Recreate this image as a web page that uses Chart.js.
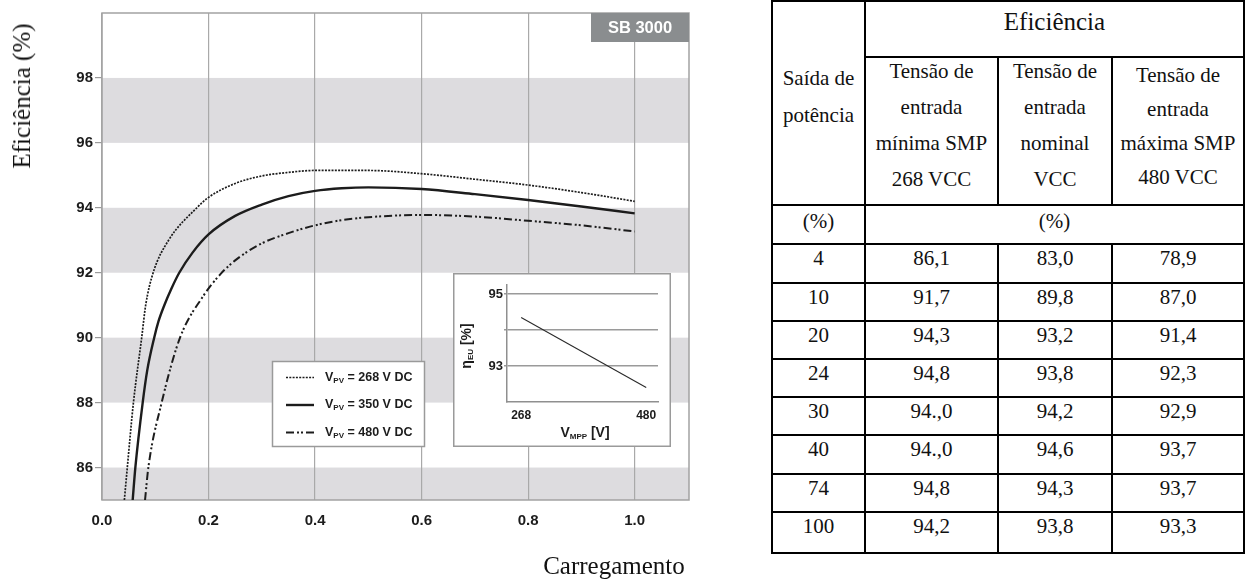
<!DOCTYPE html>
<html lang="pt">
<head>
<meta charset="utf-8">
<title>Eficiência SB 3000</title>
<script src="https://cdn.jsdelivr.net/npm/chart.js@4.4.1/dist/chart.umd.min.js"></script>
<style>
  html, body { margin: 0; padding: 0; background: #fff; }
  body { width: 1245px; height: 583px; position: relative; overflow: hidden;
         font-family: "Liberation Serif", "Times New Roman", serif; color: #111; }
  #main { position: absolute; left: 0; top: 0; }
  #inset { position: absolute; left: 453px; top: 273px; }
  .ytitle { position: absolute; left: 22px; top: 96px; white-space: nowrap; font-size: 25px;
            transform: translate(-50%, -50%) rotate(-90deg); }
  .xtitle { position: absolute; left: 614px; top: 566px; white-space: nowrap; font-size: 25px;
            transform: translate(-50%, -50%); }
  #tbl { position: absolute; left: 771px; top: 0; border-collapse: collapse; table-layout: fixed;
         font-size: 21px; color: #111; }
  #tbl td { border: 2px solid #000; padding: 0; text-align: center; vertical-align: top;
            line-height: 26px; white-space: nowrap; }
  #tbl .big { font-size: 25px; line-height: 40px; }
  #tbl .side { padding-top: 58px; line-height: 37px; }
  #tbl .col { line-height: 36px; }
  #tbl .col div { position: relative; top: -5px; }
  #tbl .col.last { line-height: 34px; }
  #tbl .col.last div { top: 0; }
  #tbl .pct { line-height: 30px; }
</style>
</head>
<body>
<canvas id="main" width="740" height="583"></canvas>
<canvas id="inset" width="218" height="174"></canvas>
<div class="ytitle">Eficiência (%)</div>
<div class="xtitle">Carregamento</div>
<table id="tbl"></table>

<script>
// ---- chart data ----
const xTicks = [0, 0.2, 0.4, 0.6, 0.8, 1.0];
const yTicks = [86, 88, 90, 92, 94, 96, 98];
const bands = [[85, 86], [88, 90], [92, 94], [96, 98]];

const load268 = [0.042, 0.0475, 0.059, 0.0745, 0.082, 0.096, 0.125, 0.178, 0.2, 0.25, 0.3, 0.35, 0.4, 0.5, 0.6, 0.7, 0.8, 0.9, 1.0];
const eff268  = [85, 86, 88, 90, 91, 92, 93, 94, 94.32, 94.75, 94.98, 95.09, 95.15, 95.15, 95.05, 94.88, 94.7, 94.47, 94.2];

const load350 = [0.0576, 0.0626, 0.0764, 0.085, 0.098, 0.106, 0.117, 0.13, 0.145, 0.17, 0.2, 0.25, 0.3, 0.35, 0.4, 0.45, 0.5, 0.6, 0.7, 0.8, 0.9, 1.0];
const eff350  = [85, 86, 88, 89, 90, 90.5, 91, 91.5, 92, 92.62, 93.18, 93.75, 94.1, 94.36, 94.52, 94.6, 94.63, 94.58, 94.42, 94.24, 94.04, 93.83];

const load480 = [0.0808, 0.087, 0.112, 0.1465, 0.19, 0.222, 0.25, 0.297, 0.35, 0.4, 0.45, 0.5, 0.6, 0.7, 0.8, 0.9, 1.0];
const eff480  = [85, 86, 88, 90, 91.28, 91.95, 92.38, 92.88, 93.22, 93.46, 93.62, 93.71, 93.78, 93.73, 93.6, 93.46, 93.27];

const seriesNames = ['268 V DC', '350 V DC', '480 V DC'];

const insetVoltage = [268, 480];
const insetEff = [94.35, 92.4];
const insetXTicks = [268, 480];
const insetYTicks = [93, 94, 95];
const insetYLabels = ['93', '', '95'];

// ---- table data ----
const tableTitle = 'Eficiência';
const tableSide = ['Saída de', 'potência'];
const tableColumns = [
  ['Tensão de', 'entrada', 'mínima SMP', '268 VCC'],
  ['Tensão de', 'entrada', 'nominal', 'VCC'],
  ['Tensão de', 'entrada', 'máxima SMP', '480 VCC']
];
const tableUnits = ['(%)', '(%)'];
const tableLoad = ['4', '10', '20', '24', '30', '40', '74', '100'];
const tableMin  = ['86,1', '91,7', '94,3', '94,8', '94.,0', '94.,0', '94,8', '94,2'];
const tableNom  = ['83,0', '89,8', '93,2', '93,8', '94,2', '94,6', '94,3', '93,8'];
const tableMax  = ['78,9', '87,0', '91,4', '92,3', '92,9', '93,7', '93,7', '93,3'];

// ---- styling ----
const sans = "'Liberation Sans', Arial, sans-serif";
const tickFont = { family: sans, size: 15, weight: 'bold' };
const ink = '#1c1c1c';
const dotted = [2, 1.3];
const dashDot = [8, 3, 2, 2, 2, 3];

function line(label, xs, ys, dash, width) {
  return {
    label,
    data: xs.map((x, i) => ({ x, y: ys[i] })),
    showLine: true,
    borderColor: ink,
    borderWidth: width,
    borderDash: dash,
    pointRadius: 0,
    fill: false,
    cubicInterpolationMode: 'monotone'
  };
}

// text with subscripts, e.g. V_PV = 268 V DC
function drawParts(ctx, x, y, parts, size) {
  parts.forEach(([t, sub]) => {
    ctx.font = 'bold ' + (sub ? Math.round(size * 0.6) : size) + 'px ' + sans;
    ctx.fillText(t, x, sub ? y + size * 0.25 : y);
    x += ctx.measureText(t).width;
  });
  return x;
}
function partsWidth(ctx, parts, size) {
  let w = 0;
  parts.forEach(([t, sub]) => {
    ctx.font = 'bold ' + (sub ? Math.round(size * 0.6) : size) + 'px ' + sans;
    w += ctx.measureText(t).width;
  });
  return w;
}

const decor = {
  id: 'decor',
  beforeDraw(chart) {
    const { ctx, chartArea: a, scales: { y } } = chart;
    ctx.save();
    ctx.fillStyle = '#dddcdf';
    bands.forEach(([lo, hi]) => {
      const t = y.getPixelForValue(hi), b = y.getPixelForValue(lo);
      ctx.fillRect(a.left, t, a.right - a.left, b - t);
    });
    ctx.restore();
  },
  beforeDatasetsDraw(chart) {
    const { ctx, chartArea: a } = chart;
    ctx.save();
    ctx.strokeStyle = '#a2a2a2';
    ctx.lineWidth = 1.5;
    ctx.strokeRect(a.left, a.top, a.right - a.left, a.bottom - a.top);
    ctx.restore();
  },
  afterDatasetsDraw(chart) {
    const { ctx, chartArea: a } = chart;
    ctx.save();
    // badge
    ctx.fillStyle = '#8a8d8f';
    ctx.fillRect(a.right - 98, a.top, 98, 29);
    ctx.fillStyle = '#fff';
    ctx.font = 'bold 16.5px ' + sans;
    ctx.textAlign = 'center';
    ctx.textBaseline = 'middle';
    ctx.fillText('SB 3000', a.right - 49, a.top + 15);

    // legend box
    ctx.fillStyle = '#fff';
    ctx.fillRect(272.5, 361.5, 152, 85);
    ctx.strokeStyle = '#9a9a9a';
    ctx.lineWidth = 1.5;
    ctx.strokeRect(272.5, 361.5, 152, 85);
    chart.data.datasets.forEach((ds, i) => {
      const ly = 377.5 + i * 27.5;
      ctx.beginPath();
      ctx.setLineDash(ds.borderDash || []);
      ctx.lineWidth = ds.borderWidth;
      ctx.strokeStyle = ink;
      ctx.moveTo(286, ly);
      ctx.lineTo(314, ly);
      ctx.stroke();
      ctx.setLineDash([]);
      ctx.fillStyle = ink;
      ctx.textAlign = 'left';
      ctx.textBaseline = 'middle';
      drawParts(ctx, 325, ly, [['V'], ['PV', true], [' = ' + seriesNames[i]]], 12.5);
    });
    ctx.restore();
  }
};

new Chart(document.getElementById('main'), {
  type: 'scatter',
  data: {
    datasets: [
      line('V_PV = 268 V DC', load268, eff268, dotted, 1.7),
      line('V_PV = 350 V DC', load350, eff350, [], 2.4),
      line('V_PV = 480 V DC', load480, eff480, dashDot, 2)
    ]
  },
  options: {
    responsive: false,
    animation: false,
    devicePixelRatio: 1,
    layout: { padding: { left: 0, top: 13, right: 51, bottom: 0 } },
    plugins: { legend: { display: false }, tooltip: { enabled: false } },
    scales: {
      x: {
        type: 'linear', min: 0, max: 1.102,
        afterBuildTicks: s => { s.ticks = xTicks.map(v => ({ value: v })); },
        afterFit: s => { s.height = 83; },
        grid: { color: '#a9a9a9', lineWidth: 1.2, drawTicks: false },
        border: { display: false },
        ticks: { padding: 12, color: ink, font: tickFont, maxRotation: 0, autoSkip: false,
                 callback: v => v.toFixed(1) }
      },
      y: {
        type: 'linear', min: 85, max: 100,
        afterBuildTicks: s => { s.ticks = yTicks.map(v => ({ value: v })); },
        afterFit: s => { s.width = 102; },
        grid: { drawOnChartArea: false, color: '#9a9a9a', lineWidth: 1.2, tickLength: 7 },
        border: { display: false },
        ticks: { padding: 2, color: ink, font: tickFont, autoSkip: false }
      }
    }
  },
  plugins: [decor]
});

const insetFrame = {
  id: 'insetFrame',
  beforeDraw(chart) {
    const { ctx, width, height } = chart;
    ctx.save();
    ctx.fillStyle = '#fff';
    ctx.fillRect(0, 0, width, height);
    ctx.strokeStyle = '#9a9a9a';
    ctx.lineWidth = 1.5;
    ctx.strokeRect(0.75, 0.75, width - 1.5, height - 1.5);
    ctx.restore();
  },
  afterDraw(chart) {
    const { ctx } = chart;
    ctx.save();
    ctx.fillStyle = ink;
    ctx.textBaseline = 'middle';
    ctx.textAlign = 'left';
    const xp = [['V'], ['MPP', true], [' [V]']];
    drawParts(ctx, 132 - partsWidth(ctx, xp, 14) / 2, 160, xp, 14);
    ctx.translate(14, 73);
    ctx.rotate(-Math.PI / 2);
    const yp = [['η'], ['EU', true], [' [%]']];
    drawParts(ctx, -partsWidth(ctx, yp, 14) / 2, 0, yp, 14);
    ctx.restore();
  }
};

new Chart(document.getElementById('inset'), {
  type: 'scatter',
  data: {
    datasets: [{
      data: insetVoltage.map((v, i) => ({ x: v, y: insetEff[i] })),
      showLine: true, borderColor: '#2a2a2a', borderWidth: 1.1, pointRadius: 0
    }]
  },
  options: {
    responsive: false,
    animation: false,
    devicePixelRatio: 1,
    layout: { padding: { left: 0, top: 12, right: 13, bottom: 0 } },
    plugins: { legend: { display: false }, tooltip: { enabled: false } },
    scales: {
      x: {
        type: 'linear', min: 244, max: 500,
        afterBuildTicks: s => { s.ticks = insetXTicks.map(v => ({ value: v })); },
        afterFit: s => { s.height = 45; },
        grid: { display: false, drawTicks: false },
        border: { color: '#8f8f8f', width: 1.5 },
        ticks: { padding: 6, color: ink, font: { family: sans, size: 12, weight: 'bold' }, maxRotation: 0, autoSkip: false }
      },
      y: {
        type: 'linear', min: 92, max: 95.25,
        afterBuildTicks: s => { s.ticks = insetYTicks.map(v => ({ value: v })); },
        afterFit: s => { s.width = 54; },
        grid: { color: '#9a9a9a', lineWidth: 1.5, tickLength: 3 },
        border: { color: '#8f8f8f', width: 1.5 },
        ticks: { padding: 1, color: ink, font: { family: sans, size: 13, weight: 'bold' }, autoSkip: false,
                 callback: (v, i) => insetYLabels[i] }
      }
    }
  },
  plugins: [insetFrame]
});

// ---- table ----
(function buildTable() {
  const rowHeights = [56, 148, 39, 39, 38, 38, 38, 38, 39, 38, 41];
  const colWidths = [93, 133, 114, 132];
  let html = '<colgroup>' + colWidths.map(w => '<col style="width:' + w + 'px">').join('') + '</colgroup>';
  html += '<tr style="height:' + rowHeights[0] + 'px"><td rowspan="2" class="side">' + tableSide.join('<br>') +
          '</td><td colspan="3" class="big">' + tableTitle + '</td></tr>';
  html += '<tr style="height:' + rowHeights[1] + 'px">' + tableColumns.map((c, i) =>
          '<td class="col' + (i === tableColumns.length - 1 ? ' last' : '') + '"><div>' + c.join('<br>') + '</div></td>').join('') + '</tr>';
  html += '<tr style="height:' + rowHeights[2] + 'px"><td class="pct">' + tableUnits[0] +
          '</td><td colspan="3" class="pct">' + tableUnits[1] + '</td></tr>';
  tableLoad.forEach((l, i) => {
    html += '<tr style="height:' + rowHeights[3 + i] + 'px"><td>' + l + '</td><td>' + tableMin[i] +
            '</td><td>' + tableNom[i] + '</td><td>' + tableMax[i] + '</td></tr>';
  });
  document.getElementById('tbl').innerHTML = html;
})();
</script>
</body>
</html>
